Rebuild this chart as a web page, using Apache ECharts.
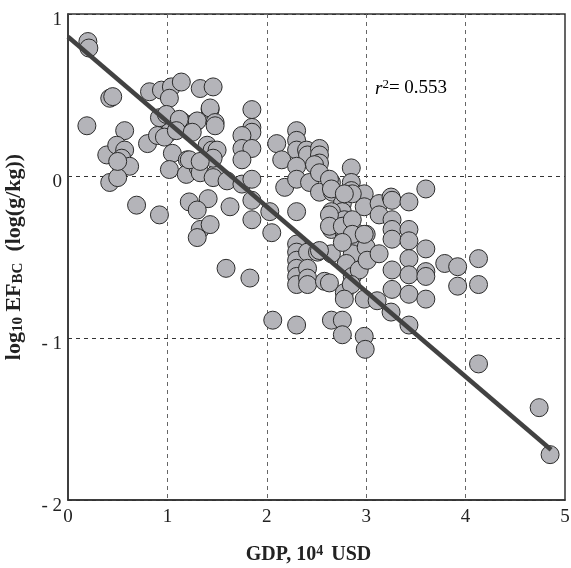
<!DOCTYPE html>
<html>
<head>
<meta charset="utf-8">
<script src="https://cdn.jsdelivr.net/npm/echarts@6/dist/echarts.min.js"></script>
<style>
  html, body { margin: 0; padding: 0; background: #fff; }
  #chart { width: 571px; height: 568px; }
</style>
</head>
<body>
<div id="chart"></div>
<script>
// GDP (10^4 USD) vs log10 EF_BC
const gdp = [
  0.20, 0.21, 0.19, 0.42, 0.45, 0.39, 0.57, 0.49, 0.57, 0.54, 0.54, 0.62, 0.42, 0.50, 0.69,
  0.80, 0.82, 0.94, 1.04, 1.14, 1.02, 1.33, 1.46, 0.92, 0.99, 1.14, 1.28, 1.43, 1.02, 0.90,
  1.05, 1.02, 1.20, 1.19, 1.31, 1.33, 1.40, 1.45, 1.48, 1.22, 1.41, 0.92, 1.30, 1.12, 1.30,
  1.43, 1.48, 1.48, 1.85, 1.85, 1.85, 1.75, 1.75, 1.85, 1.75, 1.50, 1.46, 1.22, 1.33, 1.46,
  1.60, 1.75, 1.85, 1.63, 1.85, 1.85, 1.33, 1.30, 1.43, 2.03, 2.05, 1.59, 1.83, 2.06, 2.10,
  2.15, 2.18, 0.97, 1.09, 1.25, 0.50,
  2.30, 2.30, 2.30, 2.40, 2.41, 2.53, 2.53, 2.53, 2.48, 2.30, 2.30, 2.43, 2.53, 2.53, 2.65,
  2.66, 2.30, 2.85, 2.85, 2.85, 2.98, 2.98, 2.76, 2.76, 2.65, 2.65, 2.65, 2.78, 2.78, 2.78,
  2.78, 2.65, 2.86, 2.86, 3.00, 3.00, 2.30, 2.30, 2.30, 2.30, 2.30, 2.30, 2.41, 2.41, 2.41,
  2.41, 2.58, 2.51, 2.80, 2.86, 2.78, 2.93, 3.01, 2.30, 2.65, 2.76, 2.76, 2.85, 2.98, 2.98,
  2.99, 2.90, 2.63, 2.65, 2.86, 2.78, 3.13, 3.13, 3.25, 3.26, 3.43, 3.60, 2.63, 2.63, 2.76,
  2.86, 2.86, 2.76, 2.98, 3.26, 3.26, 3.43, 3.26, 3.43, 3.60, 3.13, 3.26, 3.43, 3.43, 3.60,
  3.60, 3.79, 3.92, 4.13, 3.92, 4.13, 3.26, 3.43, 3.60, 2.63, 2.78, 3.11, 3.25, 3.43, 2.53,
  4.13, 4.74, 4.85
];
const logEF = [
  0.83, 0.79, 0.31, 0.48, 0.49, 0.13, 0.28, 0.19, 0.16, 0.11, 0.05, 0.06, -0.04, -0.01, -0.18,
  0.20, 0.52, 0.53, 0.55, 0.58, 0.48, 0.54, 0.55, 0.36, 0.38, 0.34, 0.33, 0.41, 0.27, 0.25,
  0.14, 0.04, 0.10, 0.01, 0.05, 0.02, 0.19, 0.16, 0.01, -0.16, -0.14, -0.24, -0.21, 0.35, 0.34,
  0.42, 0.33, 0.31, 0.41, 0.30, 0.27, 0.25, 0.17, 0.17, 0.10, 0.16, 0.11, 0.10, 0.09, -0.01,
  -0.03, -0.05, -0.02, -0.19, -0.15, -0.27, -0.33, -0.38, -0.30, -0.22, -0.35, -0.57, -0.63, -0.89, 0.20,
  0.10, -0.07, 0.24, 0.28, 0.27, 0.09,
  0.28, 0.22, 0.16, 0.16, 0.13, 0.17, 0.13, 0.08, 0.07, 0.06, -0.02, -0.04, 0.02, -0.10, -0.04,
  -0.10, -0.22, 0.05, -0.04, -0.09, -0.11, -0.19, -0.17, -0.22, -0.22, -0.30, -0.33, -0.27, -0.31, -0.36,
  -0.39, -0.48, -0.44, -0.48, -0.36, -0.44, -0.42, -0.47, -0.52, -0.57, -0.62, -0.67, -0.47, -0.57, -0.63,
  -0.67, -0.65, -0.47, -0.54, -0.62, -0.72, -0.58, -0.52, -0.92, -0.89, -0.89, -0.98, -0.67, -0.76, -0.99,
  -1.07, -0.35, -0.02, -0.08, -0.11, -0.11, -0.17, -0.24, -0.13, -0.15, -0.16, -0.08, -0.24, -0.31, -0.31,
  -0.27, -0.36, -0.41, -0.36, -0.27, -0.33, -0.33, -0.39, -0.40, -0.45, -0.48, -0.58, -0.51, -0.61, -0.59,
  -0.62, -0.54, -0.56, -0.51, -0.68, -0.67, -0.70, -0.73, -0.76, -0.66, -0.76, -0.77, -0.84, -0.92, -0.46,
  -1.16, -1.43, -1.72
];
// Least-squares fit line end points
const fitX = [0, 4.86];
const fitY = [0.86, -1.69];
const rSquared = '0.553';
const xTicks = [0, 1, 2, 3, 4, 5];
const yTicks = [-2, -1, 0, 1];

const serif = '"Liberation Serif", "DejaVu Serif", serif';
const chart = echarts.init(document.getElementById('chart'));

chart.setOption({
  animation: false,
  grid: {
    left: 68, right: 6, top: 14, bottom: 68, show: false,
    containLabel: false, outerBoundsMode: 'none'
  },
  xAxis: {
    type: 'value', min: xTicks[0], max: xTicks[xTicks.length - 1], interval: 1,
    axisLine: { show: true, onZero: false, lineStyle: { color: '#333', width: 1.5 } },
    axisTick: { show: false },
    axisLabel: { color: '#222', fontFamily: serif, fontSize: 19, margin: 8 },
    splitLine: { show: true, lineStyle: { type: [4, 4], color: '#666', width: 1 } },
    name: '{b|GDP, 10}{sup|4}{b| USD}',
    nameLocation: 'middle', nameGap: 44,
    nameTextStyle: {
      padding: [0, 16, 0, 0],
      rich: {
        b: { fontFamily: serif, fontWeight: 'bold', fontSize: 20, color: '#222' },
        sup: { fontFamily: serif, fontWeight: 'bold', fontSize: 14, color: '#222', verticalAlign: 'top', padding: [0, 3, 8, 0] }
      }
    }
  },
  yAxis: {
    type: 'value', min: yTicks[0], max: yTicks[yTicks.length - 1], interval: 1,
    axisLine: { show: true, onZero: false, lineStyle: { color: '#333', width: 1.5 } },
    axisTick: { show: false },
    axisLabel: {
      color: '#222', fontFamily: serif, fontSize: 19, margin: 6,
      verticalAlign: 'top', lineHeight: 12,
      formatter: v => (v < 0 ? '- ' + Math.abs(v) : String(v))
    },
    splitLine: { show: true, lineStyle: { type: [4, 4], color: '#333', width: 1 } },
    name: '{b|log}{sub|10}{b| EF}{sub|BC}{b|  (log(g/kg))}',
    nameLocation: 'middle', nameGap: 42,
    nameTextStyle: {
      rich: {
        b: { fontFamily: serif, fontWeight: 'bold', fontSize: 22, color: '#222' },
        sub: { fontFamily: serif, fontWeight: 'bold', fontSize: 15, color: '#222', verticalAlign: 'bottom', padding: [9, 0, 0, 0] }
      }
    }
  },
  graphic: [
    {
      type: 'rect', silent: true, z: 0,
      shape: { x: 68, y: 14, width: 497, height: 486 },
      style: { fill: 'none', stroke: '#333', lineWidth: 1.5 }
    },
    {
      type: 'text', left: 375, top: 78, z: 10,
      style: {
        text: '{i|r}{sup|2}{n|= ' + rSquared + '}',
        rich: {
          i: { fontFamily: serif, fontStyle: 'italic', fontSize: 19, color: '#222' },
          sup: { fontFamily: serif, fontSize: 13, color: '#222', verticalAlign: 'top', padding: [0, 0, 8, 0] },
          n: { fontFamily: serif, fontSize: 19, color: '#222' }
        }
      }
    }
  ],
  series: [
    {
      type: 'scatter',
      data: gdp.map((x, i) => [x, logEF[i]]),
      symbolSize: 18,
      itemStyle: { color: '#b4b4b9', borderColor: '#2b2b2b', borderWidth: 1, opacity: 1 },
      z: 2
    },
    {
      type: 'line',
      data: fitX.map((x, i) => [x, fitY[i]]),
      symbol: 'none',
      lineStyle: { color: '#424242', width: 4.5 },
      z: 3
    }
  ]
});
</script>
</body>
</html>
